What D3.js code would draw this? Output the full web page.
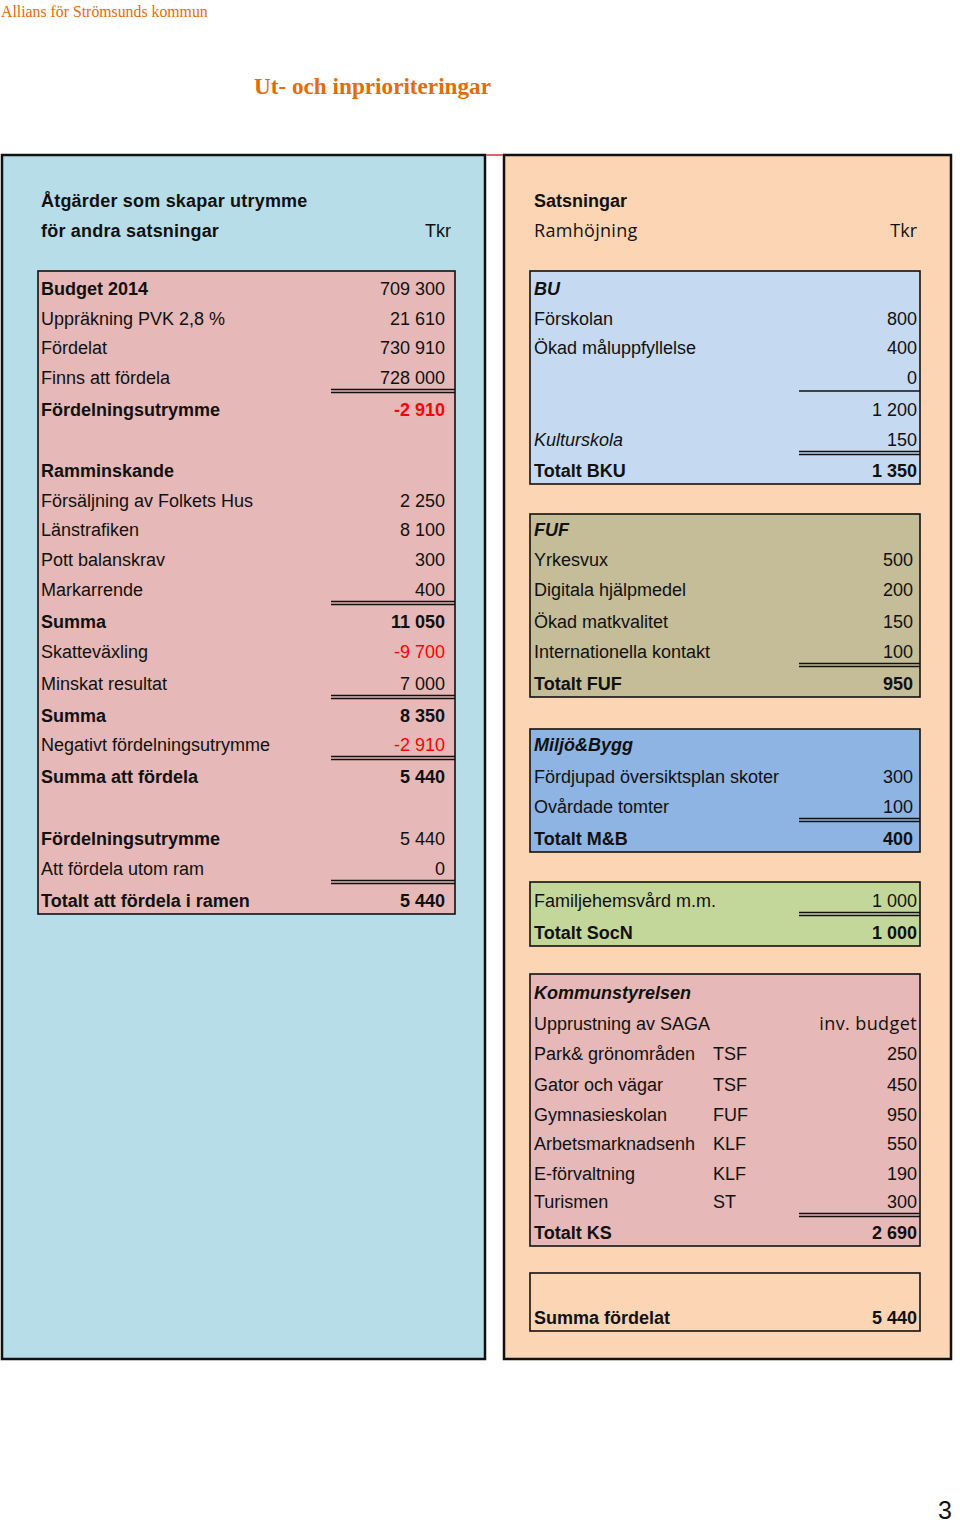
<!DOCTYPE html>
<html>
<head>
<meta charset="utf-8">
<script src="https://cdn.jsdelivr.net/npm/d3@7"></script>
<style>
  body { margin: 0; background: #fff; }
  svg text { font-family: "Liberation Sans", Arial, sans-serif; fill: #111; }
</style>
</head>
<body>
<div id="sheet"></div>
<script>
// ---- data ----
const leftLabels = ["Budget 2014", "Uppräkning PVK 2,8 %", "Fördelat", "Finns att fördela", "Fördelningsutrymme", "",
  "Ramminskande", "Försäljning av Folkets Hus", "Länstrafiken", "Pott balanskrav", "Markarrende", "Summa",
  "Skatteväxling", "Minskat resultat", "Summa", "Negativt fördelningsutrymme", "Summa att fördela", "",
  "Fördelningsutrymme", "Att fördela utom ram", "Totalt att fördela i ramen"];
const leftValues = [709300, 21610, 730910, 728000, -2910, null, null, 2250, 8100, 300, 400, 11050,
  -9700, 7000, 8350, -2910, 5440, null, 5440, 0, 5440];

const buLabels = ["BU", "Förskolan", "Ökad måluppfyllelse", "", "", "Kulturskola", "Totalt BKU"];
const buValues = [null, 800, 400, 0, 1200, 150, 1350];

const fufLabels = ["FUF", "Yrkesvux", "Digitala hjälpmedel", "Ökad matkvalitet", "Internationella kontakt", "Totalt FUF"];
const fufValues = [null, 500, 200, 150, 100, 950];

const mbLabels = ["Miljö&Bygg", "Fördjupad översiktsplan skoter", "Ovårdade tomter", "Totalt M&B"];
const mbValues = [null, 300, 100, 400];

const socLabels = ["Familjehemsvård m.m.", "Totalt SocN"];
const socValues = [1000, 1000];

const ksLabels = ["Kommunstyrelsen", "Upprustning av SAGA", "Park& grönområden", "Gator och vägar", "Gymnasieskolan",
  "Arbetsmarknadsenh", "E-förvaltning", "Turismen", "Totalt KS"];
const ksCodes = ["", "", "TSF", "TSF", "FUF", "KLF", "KLF", "ST", ""];
const ksValues = [null, "inv. budget", 250, 450, 950, 550, 190, 300, 2690];

const sumLabels = ["", "Summa fördelat"];
const sumValues = [null, 5440];

// ---- layout ----
const width = 960, height = 1523;
const rowCenters = [200, 230, 257, 288, 318, 347, 377, 409, 439, 470, 500, 529, 559, 589, 621, 651, 683, 715, 744,
  776, 806, 838, 868, 900, 932, 960, 992, 1023, 1053, 1084, 1114, 1143, 1173, 1201, 1232, 1259, 1288, 1317];
const rowY = d3.scaleOrdinal().domain(d3.range(rowCenters.length)).range(rowCenters);
const baseline = r => rowY(r) + 6.5;
const rowBottom = r => rowY(r) + 14;

const cols = {
  left: { x0: 38, x1: 455, label: 41, value: 445, rule: 331 },
  right: { x0: 530, x1: 920, label: 534, value: 917, code: 713, rule: 799 }
};

const tables = [
  { side: "left", start: 3, labels: leftLabels, values: leftValues, fill: "#e6b8b7",
    boldLabels: [0, 4, 6, 11, 14, 16, 18, 20], boldValues: [4, 11, 14, 16, 20], doubles: [3, 10, 13, 15, 19] },
  { side: "right", start: 3, labels: buLabels, values: buValues, fill: "#c5d9f1",
    boldLabels: [0, 6], boldValues: [6], italic: [0, 5], singles: [3], doubles: [5] },
  { side: "right", start: 11, labels: fufLabels, values: fufValues, fill: "#c4bd97", valueShift: -4,
    boldLabels: [0, 5], boldValues: [5], italic: [0], doubles: [4] },
  { side: "right", start: 18, labels: mbLabels, values: mbValues, fill: "#8db4e2", valueShift: -4,
    boldLabels: [0, 3], boldValues: [3], italic: [0], doubles: [2] },
  { side: "right", start: 23, labels: socLabels, values: socValues, fill: "#c4d79b",
    boldLabels: [1], boldValues: [1], doubles: [0] },
  { side: "right", start: 26, labels: ksLabels, values: ksValues, codes: ksCodes, fill: "#e6b8b7",
    boldLabels: [0, 8], boldValues: [8], italic: [0], doubles: [7] },
  { side: "right", start: 36, labels: sumLabels, values: sumValues, fill: "none",
    boldLabels: [1], boldValues: [1] }
];

const se = d3.formatLocale({ decimal: ",", thousands: " ", grouping: [3], currency: ["", " kr"], minus: "-" });
const fmt = se.format(",d");
const calibri = "'Open Sans', 'Noto Sans', sans-serif";

const svg = d3.select("#sheet").append("svg")
  .attr("width", width).attr("height", height);

// titles
svg.append("text").attr("x", 1).attr("y", 17)
  .style("font-family", "'Liberation Serif', 'Times New Roman', serif")
  .style("font-size", "15.8px").style("fill", "#e36c09")
  .text("Allians för Strömsunds kommun");
svg.append("text").attr("x", 254).attr("y", 94)
  .style("font-family", "'Liberation Serif', 'Times New Roman', serif")
  .style("font-size", "23.2px").style("font-weight", "bold").style("fill", "#e36c09")
  .text("Ut- och inprioriteringar");

// panels
const panelTop = 155, panelBottom = 1359;
svg.append("rect").attr("x", 2).attr("y", panelTop).attr("width", 483).attr("height", panelBottom - panelTop)
  .attr("fill", "#b7dde8").attr("stroke", "#111").attr("stroke-width", 2.5);
svg.append("rect").attr("x", 504).attr("y", panelTop).attr("width", 447).attr("height", panelBottom - panelTop)
  .attr("fill", "#fcd5b4").attr("stroke", "#111").attr("stroke-width", 2.5);
svg.append("line").attr("x1", 486).attr("x2", 503).attr("y1", panelTop).attr("y2", panelTop)
  .attr("stroke", "#e0636b").attr("stroke-width", 2);

// panel headers
const hdr = svg.append("g").style("font-size", "18px");
hdr.append("text").attr("x", 41).attr("y", baseline(0)).style("font-weight", "bold")
  .style("letter-spacing", "0.2px").text("Åtgärder som skapar utrymme");
hdr.append("text").attr("x", 41).attr("y", baseline(1)).style("font-weight", "bold")
  .style("letter-spacing", "0.2px").text("för andra satsningar");
hdr.append("text").attr("x", 451).attr("y", baseline(1)).attr("text-anchor", "end").text("Tkr");
hdr.append("text").attr("x", 534).attr("y", baseline(0)).style("font-weight", "bold").text("Satsningar");
hdr.append("text").attr("x", 534).attr("y", baseline(1)).style("font-family", calibri)
  .style("letter-spacing", "0.3px").text("Ramhöjning");
hdr.append("text").attr("x", 917).attr("y", baseline(1)).attr("text-anchor", "end").style("font-family", calibri).text("Tkr");

// tables
tables.forEach(t => {
  const c = cols[t.side];
  const n = t.labels.length;
  const top = rowBottom(t.start - 1), bottom = rowBottom(t.start + n - 1);
  const g = svg.append("g").style("font-size", "18px");

  g.append("rect").attr("x", c.x0).attr("y", top).attr("width", c.x1 - c.x0).attr("height", bottom - top)
    .attr("fill", t.fill).attr("stroke", "#111").attr("stroke-width", 1.6);

  const rows = d3.range(n).map(i => ({
    i, r: t.start + i, label: t.labels[i], value: t.values[i], code: t.codes ? t.codes[i] : ""
  }));

  g.selectAll(".lbl").data(rows.filter(d => d.label)).join("text")
    .attr("class", "lbl")
    .attr("x", c.label).attr("y", d => baseline(d.r))
    .style("font-weight", d => (t.boldLabels || []).includes(d.i) ? "bold" : "normal")
    .style("font-style", d => (t.italic || []).includes(d.i) ? "italic" : "normal")
    .text(d => d.label);

  g.selectAll(".code").data(rows.filter(d => d.code)).join("text")
    .attr("class", "code")
    .attr("x", c.code).attr("y", d => baseline(d.r))
    .text(d => d.code);

  g.selectAll(".val").data(rows.filter(d => d.value !== null)).join("text")
    .attr("class", "val")
    .attr("x", d => c.value + (typeof d.value === "number" ? (t.valueShift || 0) : 0))
    .attr("y", d => baseline(d.r))
    .attr("text-anchor", "end")
    .style("font-weight", d => (t.boldValues || []).includes(d.i) ? "bold" : "normal")
    .style("font-family", d => typeof d.value === "string" ? calibri : null)
    .style("letter-spacing", d => typeof d.value === "string" ? "0.4px" : null)
    .style("fill", d => typeof d.value === "number" && d.value < 0 ? "#ff0000" : null)
    .text(d => typeof d.value === "number" ? fmt(d.value) : d.value);

  // underline rules
  (t.singles || []).forEach(i => {
    const y = rowBottom(t.start + i);
    g.append("line").attr("x1", c.rule).attr("x2", c.x1).attr("y1", y).attr("y2", y)
      .attr("stroke", "#111").attr("stroke-width", 1.6);
  });
  (t.doubles || []).forEach(i => {
    const y = rowBottom(t.start + i);
    [y - 1.5, y + 1.5].forEach(yy => g.append("line").attr("x1", c.rule).attr("x2", c.x1)
      .attr("y1", yy).attr("y2", yy).attr("stroke", "#111").attr("stroke-width", 1.3));
  });
});

// page number
svg.append("text").attr("x", 952).attr("y", 1519).attr("text-anchor", "end")
  .style("font-size", "25px").text("3");
</script>
</body>
</html>
